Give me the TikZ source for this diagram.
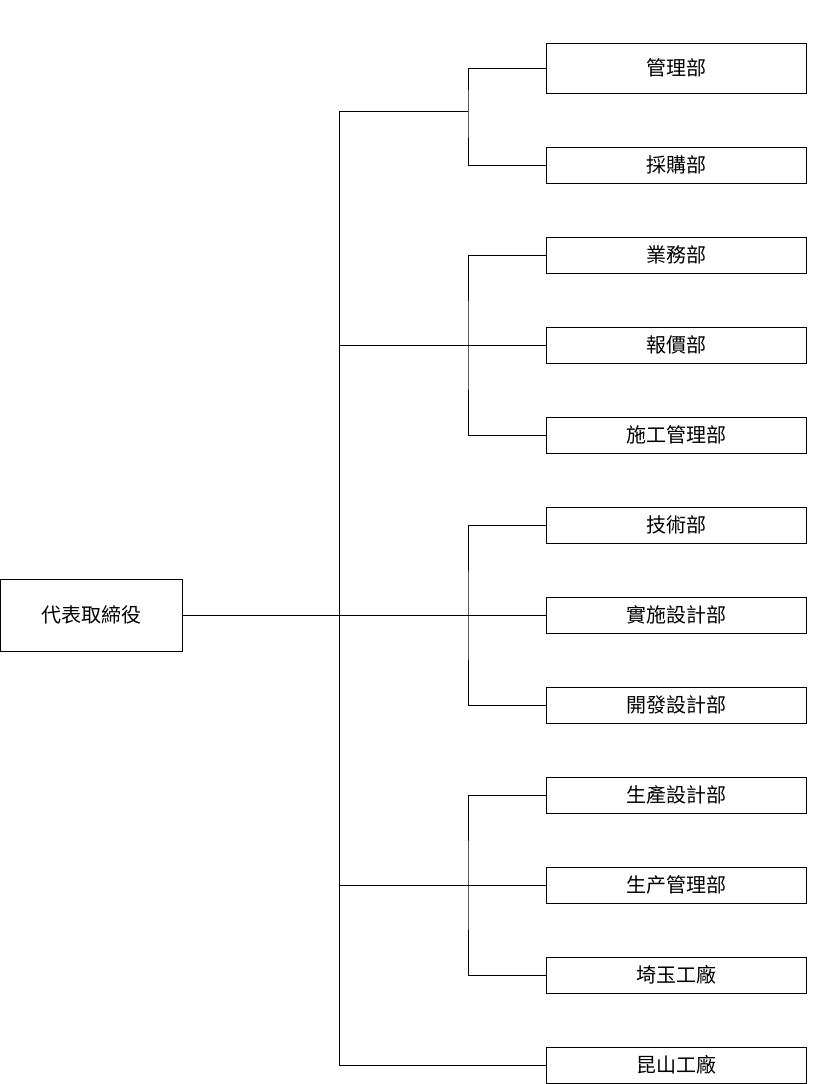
\documentclass[tikz,border=0pt]{standalone}
\usepackage{fontspec}
\newfontfamily\cjk{Noto Sans CJK TC}
\begin{document}
\begin{tikzpicture}[x=1pt,y=-1pt,
  box/.style={draw,minimum width=260pt,minimum height=36pt,inner sep=0pt,font=\cjk\fontsize{20}{22}\selectfont}]
\useasboundingbox (0,0) rectangle (833,1084);
\node[box,minimum width=182pt,minimum height=72pt] (ceo) at (91,615) {代表取締役};

\node[box,minimum height=50pt] (kanri) at (676,68) {管理部};
\node[box] (saiko) at (676,165) {採購部};
\node[box] (gyomu) at (676,255) {業務部};
\node[box] (hoka) at (676,345) {報價部};
\node[box] (seko) at (676,435) {施工管理部};
\node[box] (gijutsu) at (676,525) {技術部};
\node[box] (jisshi) at (676,615) {實施設計部};
\node[box] (kaihatsu) at (676,705) {開發設計部};
\node[box] (seisan) at (676,795) {生產設計部};
\node[box] (seisankanri) at (676,885) {生产管理部};
\node[box] (saitama) at (676,975) {埼玉工廠};
\node[box] (kunshan) at (676,1065) {昆山工廠};

\coordinate (t1) at (339,111);
\coordinate (t5) at (339,1065);
\coordinate (g1) at (468,111);

% trunk
\draw (t1)--(t5)--(kunshan.west);
\draw (ceo.east)--(jisshi.west);
\draw (t1)--(g1);
\draw (339,345)--(hoka.west);
\draw (339,885)--(seisankanri.west);

% groups
\draw (kanri.west)-|(g1)|-(saiko.west);
\draw (gyomu.west)-|(468,345)|-(seko.west);
\draw (gijutsu.west)-|(468,615)|-(kaihatsu.west);
\draw (seisan.west)-|(468,885)|-(saitama.west);
\end{tikzpicture}
\end{document}
